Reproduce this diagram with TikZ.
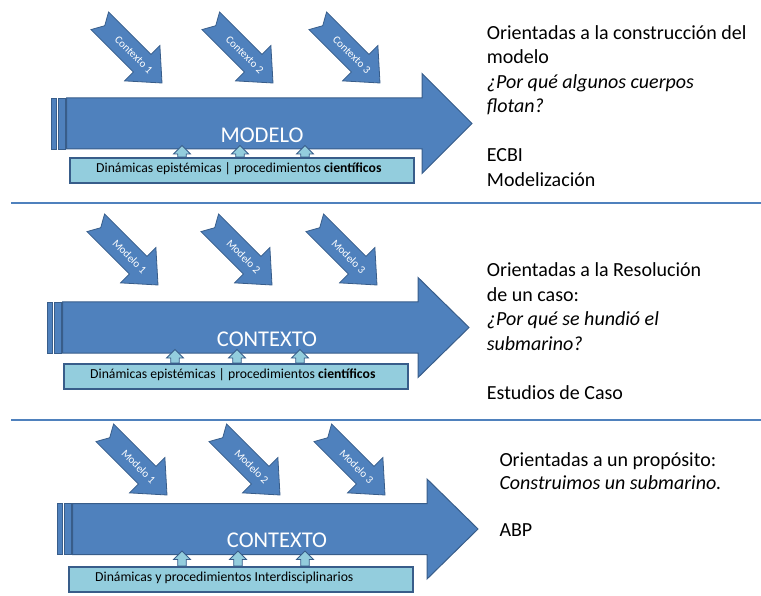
\documentclass[tikz,border=0pt]{standalone}
\usepackage{fontspec}
\setmainfont{Carlito}
\definecolor{arrowblue}{HTML}{4F81BD}
\definecolor{arrowedge}{HTML}{385D8A}
\definecolor{boxfill}{HTML}{93CDDD}
\tikzset{
  bigarrow/.style={fill=arrowblue, draw=arrowedge, line width=1pt},
  stripe/.style={fill=arrowblue, draw=arrowedge, line width=0.8pt},
  tiltarrow/.style={fill=arrowblue, draw=arrowedge, line width=0.8pt},
  tiltlabel/.style={text=white, font=\fontsize{11}{11}\selectfont, inner sep=0pt, rotate=-45},
  biglabel/.style={text=white, font=\fontsize{22.5}{22.5}\selectfont, inner sep=0pt, anchor=base},
  upbox/.style={fill=boxfill, draw=arrowedge, line width=1.8pt, minimum width=344pt,
    minimum height=25pt, anchor=north west, inner sep=0pt},
  boxtext/.style={anchor=base west, inner sep=0pt, font=\fontsize{13.7}{13.7}\selectfont},
  uparrow/.style={fill=boxfill, draw=arrowedge, line width=0.8pt},
  sideline/.style={draw=arrowblue, line width=1.5pt},
  sidetext/.style={anchor=base west, inner sep=0pt, font=\fontsize{20}{24.5}\selectfont},
}
\begin{document}
\begin{tikzpicture}[x=1pt,y=-1pt]
    \useasboundingbox (0,0) rectangle (761,596);

    % Define points
    \coordinate (S1a) at (11,203);
    \coordinate (S1b) at (761,203);
    \coordinate (S2a) at (11,420);
    \coordinate (S2b) at (761,420);

    % Separators
    \draw[sideline] (S1a) -- (S1b);
    \draw[sideline] (S2a) -- (S2b);

    % Big arrows with their small up arrows
    \foreach \L/\C/\H/\T/\lx/\lab/\by/\xa/\xb/\xc [count=\p] in {
        51/123.5/422/472/262/MODELO/157/182/240/305,
        47/327.5/418/469/267/CONTEXTO/363/175/237/300,
        57/529/427/478/277/CONTEXTO/566/182/238/305}
    {
        \draw[stripe] (\L,{\C-25.5}) rectangle ({\L+5.5},{\C+25.5});
        \draw[stripe] ({\L+7},{\C-25.5}) rectangle ({\L+14},{\C+25.5});
        \draw[bigarrow] ({\L+15.5},{\C-25.5}) -- (\H,{\C-25.5}) -- (\H,{\C-50}) -- (\T,\C)
            -- (\H,{\C+50}) -- (\H,{\C+25.5}) -- ({\L+15.5},{\C+25.5}) -- cycle;
        \node[biglabel] (big\p) at (\lx,{\C+18.7}) {\lab};
        \foreach \ux in {\xa,\xb,\xc}
            \draw[uparrow] (\ux,{\C+22}) -- ({\ux+8.5},{\C+30.5}) -- ({\ux+4.3},{\C+30.5})
                -- ({\ux+4.3},\by) -- ({\ux-4.3},\by) -- ({\ux-4.3},{\C+30.5})
                -- ({\ux-8.5},{\C+30.5}) -- cycle;
    }

    % Boxes under the big arrows
    \node[upbox] (box1) at (69,157) {};
    \node[upbox] (box2) at (63,363) {};
    \node[upbox] (box3) at (68,566) {};
    \node[boxtext] (boxt1) at (96,172.7) {Dinámicas epistémicas | procedimientos \textbf{científicos}};
    \node[boxtext] (boxt2) at (90,378.3) {Dinámicas epistémicas | procedimientos \textbf{científicos}};
    \node[boxtext] (boxt3) at (95,581.7) {Dinámicas y procedimientos Interdisciplinarios};

    % Tilted arrows
    \foreach \tx/\ty/\txt [count=\k] in {
        162/83/Contexto 1, 273/83/Contexto 2, 380/83/Contexto 3,
        158/285/Modelo 1, 272/285/Modelo 2, 377/285/Modelo 3,
        167/495/Modelo 1, 280/495/Modelo 2, 385/495/Modelo 3}
    {
        \begin{scope}[shift={(\tx,\ty)}, rotate=-45]
            \draw[tiltarrow] (0,0) -- (-28,25) -- (-28,12.5) -- (-88,12.5) -- (-81,0)
                -- (-88,-12.5) -- (-28,-12.5) -- (-28,-25) -- cycle;
            \node[tiltlabel] (tilt\k) at (-40,0) {\txt};
        \end{scope}
    }

    % Texts on the right
    \foreach \y/\txt [count=\k] in {39.5/Orientadas a la construcción del, 64/modelo,
        88.5/{\itshape ¿Por qué algunos cuerpos}, 113/{\itshape flotan?},
        162/ECBI, 186.5/Modelización}
        \node[sidetext] (ra\k) at (486.7,\y) {\txt};
    \foreach \y/\txt [count=\k] in {276.7/Orientadas a la Resolución, 301.2/de un caso:,
        325.7/{\itshape ¿Por qué se hundió el}, 350.2/{\itshape submarino?},
        399.2/Estudios de Caso}
        \node[sidetext] (rb\k) at (486.7,\y) {\txt};
    \foreach \y/\txt [count=\k] in {466/Orientadas a un propósito:,
        489.5/{\itshape Construimos un submarino.}, 536.5/ABP}
        \node[sidetext] (rc\k) at (499.3,\y) {\txt};

\end{tikzpicture}
\end{document}
